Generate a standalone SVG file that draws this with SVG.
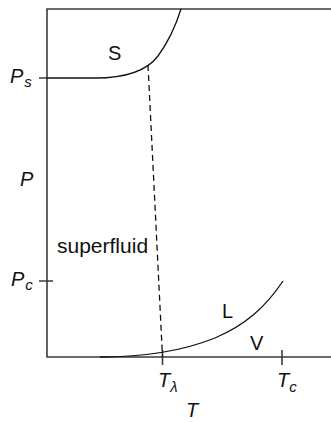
<svg xmlns="http://www.w3.org/2000/svg" width="331" height="422" viewBox="0 0 331 422">
<style>
.ax{stroke:#3a3a3a;stroke-width:1.6;fill:none}
.cv{stroke:#111;stroke-width:1.3;fill:none}
.dash{stroke:#111;stroke-width:1.3;fill:none;stroke-dasharray:6 4}
.t{font-family:"Liberation Sans",Arial,sans-serif;font-size:20px;fill:#111}
.i{font-style:italic}
.sub{font-size:15px}
</style>
<rect width="331" height="422" fill="#fff"/>
<g id="axes">
<path class="ax" d="M331,9 H47 V357 H331"/>
<path class="ax" d="M39,78 H47 M39,281 H53 M162.5,350 V365 M282,350 V365"/>
</g>
<g id="connectors">
<path id="solid-line" class="cv" d="M47,78 L95,78 C125,78 146,72 158,56 C169,41 176,25 181,9"/>
<path id="lambda-line" class="dash" d="M148,65 L162.5,357"/>
<path id="vapor-line" class="cv" d="M100,357 C140,357 180,352 215,338 C245,325 265,308 283,281"/>
</g>
<g id="labels">
<text class="t" x="108" y="60">S</text>
<text class="t" x="57" y="253" style="font-size:21px">superfluid</text>
<text class="t" x="222" y="318">L</text>
<text class="t" x="250" y="350">V</text>
<text class="t i" x="20" y="186">P</text>
<text class="t i" x="10" y="83">P<tspan class="sub" dx="1" dy="4">s</tspan></text>
<text class="t i" x="11" y="286">P<tspan class="sub" dx="1" dy="4">c</tspan></text>
<text class="t i" x="158" y="387">T<tspan class="sub" dx="0" dy="5">λ</tspan></text>
<text class="t i" x="277" y="387">T<tspan class="sub" dx="0" dy="5">c</tspan></text>
<text class="t i" x="186" y="417">T</text>
</g>
</svg>
